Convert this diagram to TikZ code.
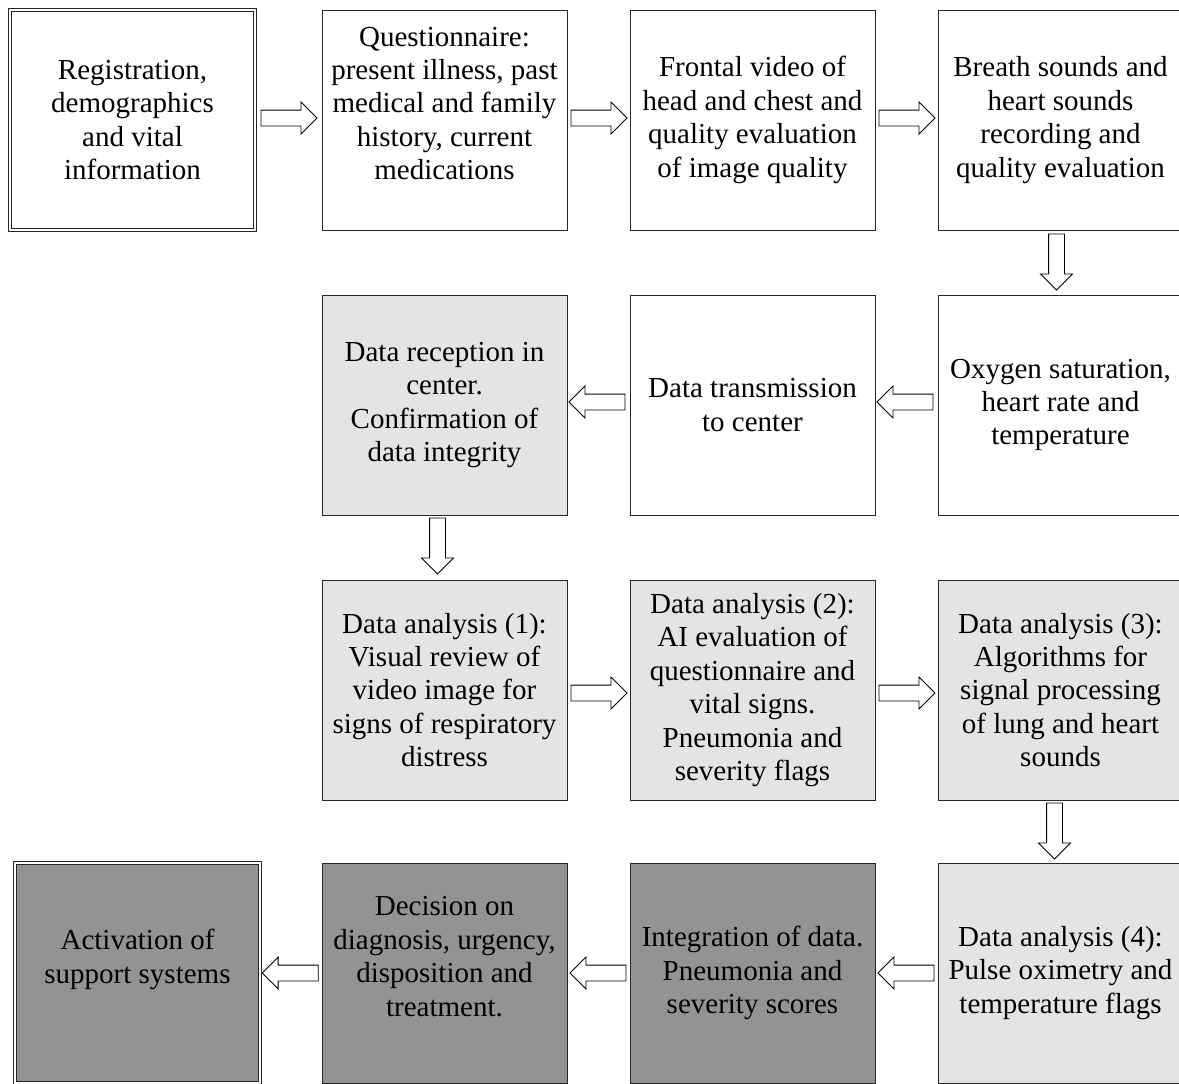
\documentclass[tikz,border=0pt]{standalone}
\usepackage{fontspec}
\setmainfont{Liberation Serif}
\usetikzlibrary{shapes.arrows}

\definecolor{lightstep}{RGB}{228,228,229}
\definecolor{darkstep}{RGB}{147,146,148}

\begin{document}
\begin{tikzpicture}[x=1pt,y=-1pt,
  stepbox/.style={rectangle,draw=black!85,line width=0.8pt,minimum width=245pt,minimum height=220pt,
    inner sep=0pt,align=center,font=\fontsize{29}{33.4}\selectfont},
  light/.style={stepbox,fill=lightstep},
  dark/.style={stepbox,fill=darkstep},
  twin/.style={double,double distance=2pt,line width=1.2pt},
  flow/.style={single arrow,draw=black,line width=0.9pt,fill=white,minimum height=56pt,
    inner xsep=0pt,inner ysep=7.5pt,single arrow head extend=8pt,single arrow tip angle=90,
    single arrow head indent=0pt,anchor=tip}]

  \clip (0,0) rectangle (1179,1084);

  % row 1
  \node[stepbox,twin] (s1) at (132.5,120) {Registration,\\demographics\\and vital\\information};
  \node[stepbox] (s2) at (444.5,120) {Questionnaire:\\present illness, past\\medical and family\\history, current\\medications\\ \mbox{}};
  \node[stepbox] (s3) at (752.5,120) {Frontal video of\\head and chest and\\quality evaluation\\of image quality};
  \node[stepbox] (s4) at (1060.5,120) {Breath sounds and\\heart sounds\\recording and\\quality evaluation};

  % row 2
  \node[stepbox] (s5) at (1060.5,405) {Oxygen saturation,\\heart rate and\\temperature};
  \node[stepbox] (s6) at (752.5,405) {Data transmission\\to center};
  \node[light] (s7) at (444.5,405) {Data reception in\\center.\\Confirmation of\\data integrity};

  % row 3
  \node[light] (s8) at (444.5,690) {Data analysis (1):\\Visual review of\\video image for\\signs of respiratory\\distress};
  \node[light] (s9) at (752.5,690) {Data analysis (2):\\AI evaluation of\\questionnaire and\\vital signs.\\Pneumonia and\\severity flags};
  \node[light] (s10) at (1060.5,690) {Data analysis (3):\\Algorithms for\\signal processing\\of lung and heart\\sounds};

  % row 4
  \node[light] (s11) at (1060.5,973) {Data analysis (4):\\Pulse oximetry and\\temperature flags};
  \node[dark] (s12) at (752.5,973) {Integration of data.\\Pneumonia and\\severity scores};
  \node[dark] (s13) at (444.5,973) {Decision on\\diagnosis, urgency,\\disposition and\\treatment.\\ \mbox{}};
  \node[dark,twin] (s14) at (137.5,973) {Activation of\\support systems\\ \mbox{}};

  % block arrows, tip at the next step
  \node[flow] (a1) at ([xshift=-4pt,yshift=2pt]s2.west) {};
  \node[flow] (a2) at ([xshift=-2pt,yshift=2pt]s3.west) {};
  \node[flow] (a3) at ([xshift=-2pt,yshift=2pt]s4.west) {};
  \node[flow,rotate=-90] (a4) at ([xshift=-4pt,yshift=4pt]s5.north) {};
  \node[flow,rotate=180] (a5) at ([xshift=1pt,yshift=3pt]s6.east) {};
  \node[flow,rotate=180] (a6) at ([xshift=1pt,yshift=3pt]s7.east) {};
  \node[flow,rotate=-90] (a7) at ([xshift=-7pt,yshift=5pt]s8.north) {};
  \node[flow] (a8) at ([xshift=-2pt,yshift=-3pt]s9.west) {};
  \node[flow] (a9) at ([xshift=-2pt,yshift=-3pt]s10.west) {};
  \node[flow,rotate=-90] (a10) at ([xshift=-6pt,yshift=3pt]s11.north) {};
  \node[flow,rotate=180] (a11) at ([xshift=2pt]s12.east) {};
  \node[flow,rotate=180] (a12) at ([xshift=2pt]s13.east) {};
  \node[flow,rotate=180] (a13) at ([xshift=1pt]s14.east) {};
\end{tikzpicture}
\end{document}
